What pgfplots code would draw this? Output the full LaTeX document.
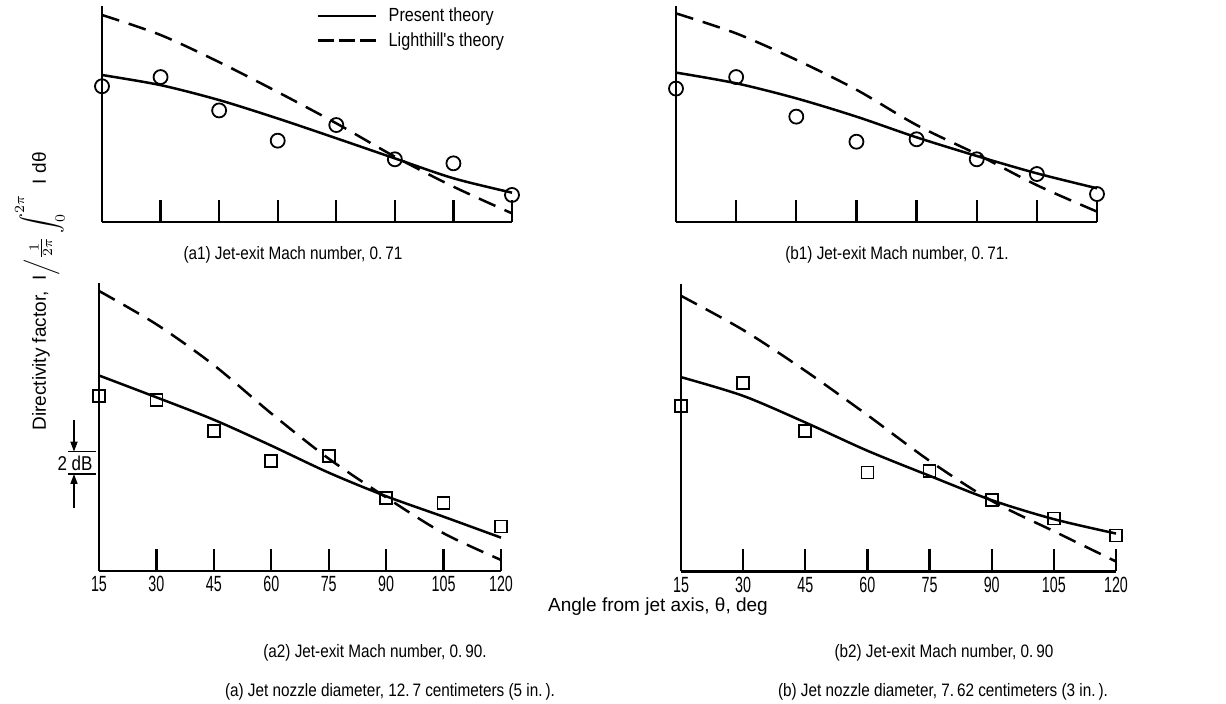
\documentclass[border=0pt]{standalone}
\usepackage{pgfplots}
\pgfplotsset{compat=1.18}
\usepackage{fontspec}
\setmainfont{Liberation Sans}
\newfontfamily\condfont{Liberation Sans}[FakeStretch=0.85]
\newfontfamily\tickfont{Liberation Sans}[FakeStretch=0.65]
\usetikzlibrary{arrows.meta}

\pgfplotsset{
  panel/.style={
    scale only axis,
    anchor=south west,
    axis x line=bottom, axis y line=left,
    axis line style={-, line width=1.1pt, black},
    xmin=15, xmax=120,
    ymin=0,
    xtick={15,30,...,120},
    ytick=\empty,
    tick align=inside,
    major tick length=11pt,
    tick style={line width=1.1pt, black},
    clip=false,
    /pgf/number format/assume math mode=true,
    xticklabel style={font=\fontsize{11}{12}\tickfont, inner sep=2.5pt},
  },
  theory/.style={black, line width=1.25pt, smooth},
  lighthill/.style={black, line width=1.25pt, smooth, dash pattern=on 9pt off 5pt},
  lighthillleg/.style={legend image code/.code={\draw[##1, dash pattern=on 8pt off 2.5pt] (0pt,0pt) -- (29pt,0pt);}},
  circ/.style={only marks, mark=o, mark size=3.5pt, mark options={line width=0.9pt, black}, forget plot},
  sq/.style={only marks, mark=square, mark size=3pt, mark options={line width=0.9pt, black}, forget plot},
}

\begin{document}
\begin{tikzpicture}
\useasboundingbox (0,0) rectangle (613pt,352pt);

% (a1)
\begin{axis}[panel, at={(51pt,241pt)}, width=205pt, height=108.1pt, ymax=18.8,
  xticklabels=\empty,
  legend style={draw=none, fill=none, at={(0.524,1.012)}, anchor=north west,
    font=\fontsize{9.5}{10}\condfont, row sep=0pt, column sep=3.5pt, inner sep=0pt, cells={anchor=west}},
  legend image code/.code={\draw[#1] (0pt,0pt) -- (29pt,0pt);}]
\addplot[theory] coordinates {(15,12.78) (30,11.9) (45,10.6) (60,9.0) (75,7.28) (90,5.53) (105,3.8) (120,2.55)};
\addlegendentry{Present theory}
\addplot[lighthill, lighthillleg]
  coordinates {(15,18.0) (30,16.26) (45,13.9) (60,11.3) (75,8.58) (90,5.68) (105,3.07) (120,0.75)};
\addlegendentry{Lighthill's theory}
\addplot[circ] coordinates {(15,11.8) (30,12.6) (45,9.7) (60,7.07) (75,8.43) (90,5.45) (105,5.1) (120,2.35)};
\end{axis}

% (b1)
\begin{axis}[panel, at={(338pt,241pt)}, width=210.5pt, height=108.1pt, ymax=18.8,
  xticklabels=\empty]
\addplot[theory] coordinates {(15,12.99) (30,12.06) (45,10.75) (60,9.16) (75,7.36) (90,5.74) (105,4.23) (120,2.93)};
\addplot[lighthill] coordinates {(15,18.14) (30,16.4) (45,14.1) (60,11.5) (75,8.43) (90,5.9) (105,3.2) (120,0.9)};
\addplot[circ] coordinates {(15,11.6) (30,12.6) (45,9.16) (60,6.98) (75,7.19) (90,5.45) (105,4.17) (120,2.43)};
\end{axis}

% (a2)
\begin{axis}[panel, at={(49.5pt,66.5pt)}, width=201pt, height=143.75pt, ymax=25]
\addplot[theory] coordinates {(15,17.0) (30,15.1) (45,13.15) (60,10.9) (75,8.55) (90,6.5) (105,4.72) (120,2.9)};
\addplot[lighthill] coordinates {(15,24.35) (30,21.45) (45,17.9) (60,13.7) (75,9.77) (90,6.4) (105,3.28) (120,0.96)};
\addplot[sq] coordinates {(15,15.2) (30,14.9) (45,12.17) (60,9.57) (75,10.0) (90,6.38) (105,5.88) (120,3.86)};
\end{axis}

% (b2)
\begin{axis}[panel, at={(340.5pt,66.25pt)}, width=217.5pt, height=143.75pt, ymax=25]
\addplot[theory] coordinates {(15,16.9) (30,15.27) (45,12.96) (60,10.5) (75,8.32) (90,6.2) (105,4.55) (120,3.3)};
\addplot[lighthill] coordinates {(15,23.97) (30,21.0) (45,17.45) (60,13.6) (75,9.62) (90,6.14) (105,3.5) (120,0.87)};
\addplot[sq] coordinates {(15,14.4) (30,16.4) (45,12.2) (60,8.6) (75,8.75) (90,6.23) (105,4.6) (120,3.13)};
\end{axis}

% y label
\node[rotate=90, anchor=base, font=\fontsize{9.5}{11}\selectfont] at (23pt,206.25pt)
  {Directivity factor,\ \ $\mathrm{I}\Big/\frac{1}{2\pi}\displaystyle\int_0^{2\pi}$\ \ I dθ};

% 2 dB scale marker
\draw[line width=0.8pt] (34pt,126.15pt) -- (48pt,126.15pt);
\draw[line width=0.8pt] (34pt,115pt) -- (48pt,115pt);
\draw[line width=0.8pt, -{Triangle[length=5pt,width=3.5pt]}] (37pt,142pt) -- (37pt,126.15pt);
\draw[line width=0.8pt, -{Triangle[length=5pt,width=3.5pt]}] (37pt,98pt) -- (37pt,115pt);
\node[font=\fontsize{10}{10}\condfont, inner sep=0pt] at (37.5pt,120.5pt) {2 dB};

% captions
\node[font=\fontsize{9}{10}\condfont] at (146.5pt,224.5pt) {(a1) Jet-exit Mach number, 0.\,71};
\node[font=\fontsize{9}{10}\condfont] at (448.5pt,224.5pt) {(b1) Jet-exit Mach number, 0.\,71.};
\node[font=\fontsize{9.5}{11}\selectfont] at (329pt,48.5pt) {Angle from jet axis, θ, deg};
\node[font=\fontsize{9}{10}\condfont] at (187.5pt,25.5pt) {(a2) Jet-exit Mach number, 0.\,90.};
\node[font=\fontsize{9}{10}\condfont] at (472pt,25.5pt) {(b2) Jet-exit Mach number, 0.\,90};
\node[font=\fontsize{9}{10}\condfont] at (195pt,6pt) {(a) Jet nozzle diameter, 12.\,7 centimeters (5 in.\,).};
\node[font=\fontsize{9}{10}\condfont] at (471.5pt,6pt) {(b) Jet nozzle diameter, 7.\,62 centimeters (3 in.\,).};
\end{tikzpicture}
\end{document}
